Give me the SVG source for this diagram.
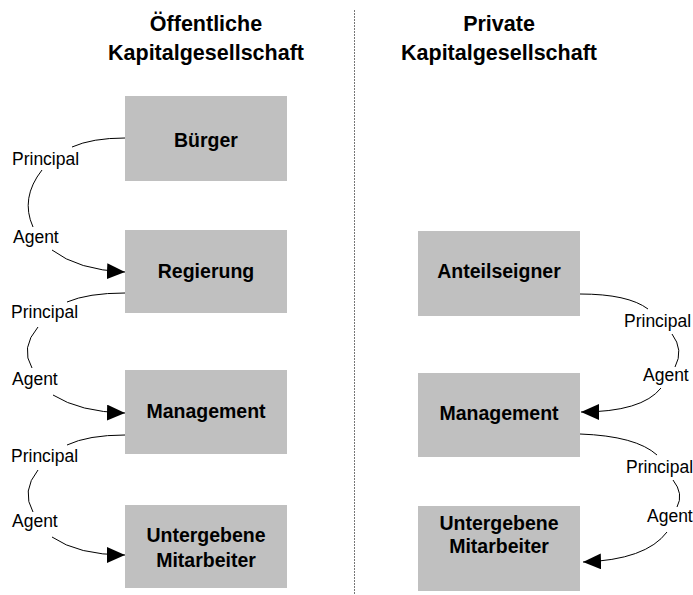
<svg xmlns="http://www.w3.org/2000/svg" width="693" height="595" viewBox="0 0 693 595">
  <style>
    .title { font-family: "Liberation Sans", Arial, sans-serif; font-weight: bold; font-size: 21.5px; fill: #000; text-anchor: middle; }
    .box rect { fill: #c0c0c0; stroke: none; }
    .box text { font-family: "Liberation Sans", Arial, sans-serif; font-weight: bold; font-size: 19.5px; fill: #000; text-anchor: middle; }
    .role { font-family: "Liberation Sans", Arial, sans-serif; font-size: 17.5px; fill: #000; }
    .link { fill: none; stroke: #000; stroke-width: 1; }
    .divider { stroke: #777; stroke-width: 1; stroke-dasharray: 2 1; }
  </style>
  <defs>
    <marker id="arrow" markerUnits="userSpaceOnUse" markerWidth="18" markerHeight="16" refX="18" refY="8" orient="auto">
      <path d="M0,0 L18,8 L0,16 z" fill="#000"/>
    </marker>
  </defs>

  <rect width="693" height="595" fill="#fff"/>

  <!-- column headings -->
  <g id="heading-public">
    <text class="title" x="206" y="31">Öffentliche</text>
    <text class="title" x="206" y="60">Kapitalgesellschaft</text>
  </g>
  <g id="heading-private">
    <text class="title" x="499" y="31">Private</text>
    <text class="title" x="499" y="60">Kapitalgesellschaft</text>
  </g>

  <line class="divider" x1="354.5" y1="10" x2="354.5" y2="595"/>

  <!-- public corporation chain -->
  <g id="buerger" class="box">
    <rect x="125" y="96" width="162" height="85"/>
    <text x="206" y="147">Bürger</text>
  </g>
  <g id="regierung" class="box">
    <rect x="125" y="230" width="162" height="83"/>
    <text x="206" y="278">Regierung</text>
  </g>
  <g id="management-public" class="box">
    <rect x="125" y="370" width="162" height="84"/>
    <text x="206" y="418">Management</text>
  </g>
  <g id="mitarbeiter-public" class="box">
    <rect x="125" y="505" width="162" height="83"/>
    <text x="206" y="542">Untergebene</text>
    <text x="206" y="567">Mitarbeiter</text>
  </g>

  <!-- private corporation chain -->
  <g id="anteilseigner" class="box">
    <rect x="418" y="231" width="162" height="85"/>
    <text x="499" y="278">Anteilseigner</text>
  </g>
  <g id="management-private" class="box">
    <rect x="418" y="373" width="162" height="84"/>
    <text x="499" y="420">Management</text>
  </g>
  <g id="mitarbeiter-private" class="box">
    <rect x="418" y="506" width="162" height="85"/>
    <text x="499" y="530">Untergebene</text>
    <text x="499" y="553">Mitarbeiter</text>
  </g>

  <!-- principal / agent connectors -->
  <g id="connectors">
    <!-- Bürger -> Regierung -->
    <path class="link" d="M125,138 Q92,138 72,147"/>
    <path class="link" d="M42,170 Q20,198 33,227"/>
    <path class="link" d="M52,250 Q78,270 125,272" marker-end="url(#arrow)"/>
    <!-- Regierung -> Management -->
    <path class="link" d="M125,293 Q88,293 67,302"/>
    <path class="link" d="M38,327 Q20,348 32,368"/>
    <path class="link" d="M53,395 Q80,412 125,413" marker-end="url(#arrow)"/>
    <!-- Management -> Untergebene Mitarbeiter -->
    <path class="link" d="M125,435 Q88,435 67,445"/>
    <path class="link" d="M38,470 Q21,491 33,512"/>
    <path class="link" d="M52,537 Q78,555 125,555" marker-end="url(#arrow)"/>
    <!-- Anteilseigner -> Management -->
    <path class="link" d="M580,294 Q628,294 648,309"/>
    <path class="link" d="M672,334 Q684,350 675,367"/>
    <path class="link" d="M661,388 Q642,412 581,412" marker-end="url(#arrow)"/>
    <!-- Management -> Untergebene Mitarbeiter -->
    <path class="link" d="M580,434 Q636,436 657,455"/>
    <path class="link" d="M673,480 Q684,494 677,507"/>
    <path class="link" d="M667,532 Q646,560 583,562" marker-end="url(#arrow)"/>
  </g>

  <!-- role labels -->
  <g id="roles">
    <text class="role" x="12" y="165">Principal</text>
    <text class="role" x="13" y="243">Agent</text>
    <text class="role" x="11" y="318">Principal</text>
    <text class="role" x="12" y="385">Agent</text>
    <text class="role" x="11" y="462">Principal</text>
    <text class="role" x="12" y="527">Agent</text>
    <text class="role" x="624" y="327">Principal</text>
    <text class="role" x="643" y="381">Agent</text>
    <text class="role" x="626" y="473">Principal</text>
    <text class="role" x="647" y="522">Agent</text>
  </g>
</svg>
